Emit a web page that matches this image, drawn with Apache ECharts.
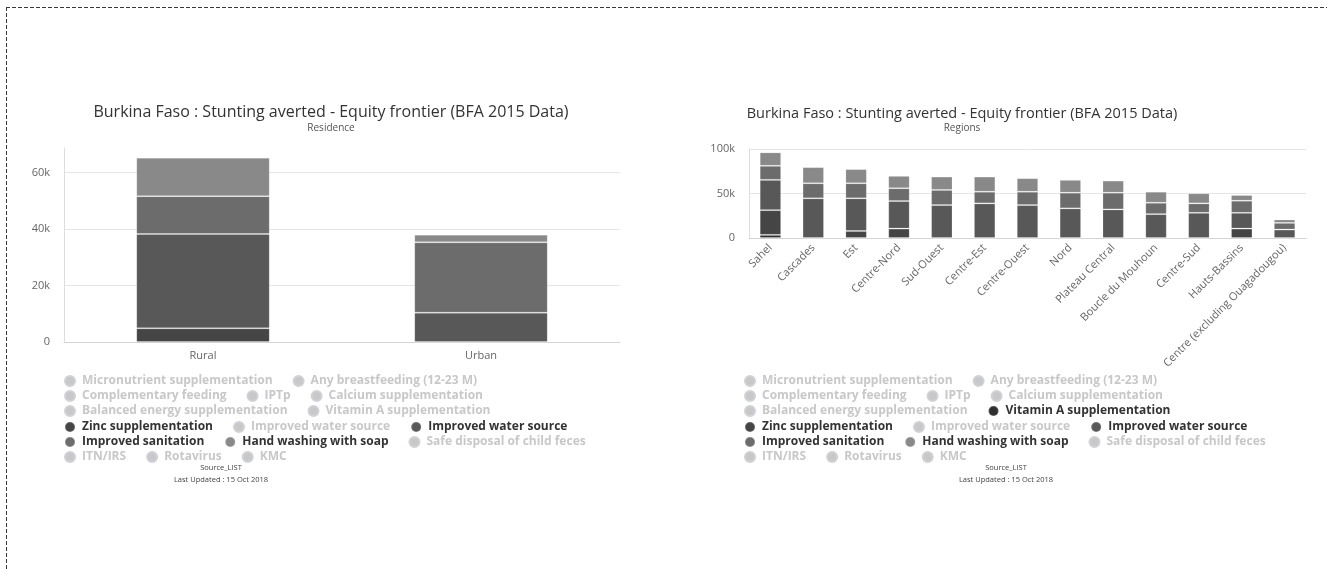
<!DOCTYPE html>
<html>
<head>
<meta charset="utf-8">
<script src="https://cdn.jsdelivr.net/npm/echarts@6/dist/echarts.min.js"></script>
<style>
  html, body { margin: 0; padding: 0; background: #fff; width: 1327px; height: 571px; overflow: hidden; position: relative; }
  #residence { position: absolute; left: 0; top: 0; width: 663px; height: 571px; }
  #regions { position: absolute; left: 663px; top: 0; width: 664px; height: 571px; }
  .frame-top { position: absolute; left: 6px; top: 7px; right: 0; height: 1px;
    background: repeating-linear-gradient(to right, #3a3a3a 0 4px, transparent 4px 6px); }
  .frame-left { position: absolute; left: 6px; top: 7px; bottom: 0; width: 1px;
    background: repeating-linear-gradient(to bottom, #3a3a3a 0 4px, transparent 4px 6px); }
</style>
</head>
<body>
<div class="frame-top"></div>
<div class="frame-left"></div>
<div id="residence"></div>
<div id="regions"></div>
<script>
// ---- Data: stunting cases averted by intervention ----
const residenceCategories = ['Rural', 'Urban'];
const residenceZinc       = [4850, 0];
const residenceWater      = [33400, 10400];
const residenceSanitation = [13400, 24900];
const residenceHandwash   = [13600, 2700];

const regionCategories = ['Sahel', 'Cascades', 'Est', 'Centre-Nord', 'Sud-Ouest', 'Centre-Est',
  'Centre-Ouest', 'Nord', 'Plateau Central', 'Boucle du Mouhoun', 'Centre-Sud', 'Hauts-Bassins',
  'Centre (excluding Ouagadougou)'];
const regionVitaminA    = [3500, 0, 0, 0, 0, 0, 0, 0, 0, 0, 0, 0, 0];
const regionZinc        = [27800, 0, 7900, 10600, 0, 0, 0, 0, 0, 0, 0, 10600, 0];
const regionWater       = [34000, 44600, 36700, 30900, 37000, 38900, 37000, 33300, 32100, 26800, 28300, 17700, 9500];
const regionSanitation  = [15800, 16900, 16900, 14400, 17000, 13100, 15000, 17600, 18800, 12800, 10600, 13600, 7500];
const regionHandwash    = [15100, 18100, 15900, 13900, 15000, 17000, 15200, 14400, 13600, 12400, 11300, 6400, 3800];

// Legend rows (the second "Improved water source" entry is a separate series;
// a trailing space keeps the names distinct, the formatter trims it)
const legendRows = [
  ['Micronutrient supplementation', 'Any breastfeeding (12-23 M)'],
  ['Complementary feeding', 'IPTp', 'Calcium supplementation'],
  ['Balanced energy supplementation', 'Vitamin A supplementation'],
  ['Zinc supplementation', 'Improved water source ', 'Improved water source'],
  ['Improved sanitation', 'Hand washing with soap', 'Safe disposal of child feces'],
  ['ITN/IRS', 'Rotavirus', 'KMC']
];

const chartTitle = 'Burkina Faso : Stunting averted - Equity frontier (BFA 2015 Data)';
const creditSource = 'Source_LIST';
const creditUpdated = 'Last Updated : 15 Oct 2018';

const seriesColors = {
  'Vitamin A supplementation': '#2f2f2f',
  'Zinc supplementation': '#454545',
  'Improved water source': '#585858',
  'Improved sanitation': '#6c6c6c',
  'Hand washing with soap': '#898989'
};

const FONT = "'Open Sans', 'Noto Sans', sans-serif";

function kFormat(v) { return v === 0 ? '0' : (v / 1000) + 'k'; }

function buildOption(cfg) {
  const allNames = legendRows.flat();
  const selected = {};
  allNames.forEach(n => { selected[n] = cfg.values.hasOwnProperty(n); });

  const series = allNames.map(n => ({
    name: n,
    type: 'bar',
    stack: 'total',
    barWidth: cfg.barWidth,
    itemStyle: { color: seriesColors[n] || '#bbbbbb', borderColor: 'rgba(255,255,255,0.18)', borderWidth: 1 },
    emphasis: { disabled: true },
    data: cfg.values[n] || []
  }));

  const legends = legendRows.map((row, i) => ({
    orient: 'horizontal',
    left: cfg.legendLeft,
    top: cfg.legendTops[i],
    padding: 0,
    itemGap: 20,
    itemWidth: 14,
    itemHeight: 10,
    icon: 'circle',
    inactiveColor: '#c8c8c8',
    selected: selected,
    formatter: name => name.trim(),
    textStyle: { fontFamily: FONT, fontSize: 12, fontWeight: 'bold', color: '#333333' },
    data: row
  }));

  const txt = (text, left, top, size, color) => ({
    text, left, top, padding: 0, textAlign: 'center',
    textStyle: { fontFamily: FONT, fontSize: size, fontWeight: 'normal', color }
  });

  return {
    animation: false,
    backgroundColor: 'transparent',
    title: [
      txt(chartTitle, cfg.titleX, cfg.titleTop, cfg.titleSize, '#333333'),
      txt(cfg.subtitle, cfg.titleX, 123, 10, '#555555'),
      txt(creditSource, cfg.creditX, 464, 7.5, '#444444'),
      txt(creditUpdated, cfg.creditX, 476, 7.5, '#444444')
    ],
    legend: legends,
    grid: cfg.grid,
    xAxis: {
      type: 'category',
      data: cfg.categories,
      axisLine: { lineStyle: { color: '#d4d4d4' } },
      axisTick: { show: false },
      axisLabel: Object.assign({ color: '#666666', fontFamily: FONT, fontSize: 11, interval: 0 }, cfg.xLabel)
    },
    yAxis: {
      type: 'value',
      min: 0,
      max: cfg.yMax,
      interval: cfg.yInterval,
      axisLine: { show: true, lineStyle: { color: '#dddddd' } },
      axisTick: { show: false },
      axisLabel: { color: '#666666', fontFamily: FONT, fontSize: 11, margin: 14, formatter: kFormat,
        showMaxLabel: cfg.showMax },
      splitLine: { showMaxLine: cfg.showMax, lineStyle: { color: '#e6e6e6' } }
    },
    series
  };
}

const rowTops = [375, 390, 405, 421, 436, 451];

const residenceChart = echarts.init(document.getElementById('residence'), null, { renderer: 'canvas' });
residenceChart.setOption(buildOption({
  titleX: 331,
  titleTop: 104,
  titleSize: 16,
  subtitle: 'Residence',
  creditX: 221,
  categories: residenceCategories,
  grid: { left: 64, top: 148, width: 556, height: 194 },
  barWidth: '48%',
  yMax: 68700,
  yInterval: 20000,
  showMax: false,
  xLabel: { margin: 8 },
  legendLeft: 64,
  legendTops: rowTops,
  values: {
    'Zinc supplementation': residenceZinc,
    'Improved water source': residenceWater,
    'Improved sanitation': residenceSanitation,
    'Hand washing with soap': residenceHandwash
  }
}));

const regionsChart = echarts.init(document.getElementById('regions'), null, { renderer: 'canvas' });
regionsChart.setOption(buildOption({
  titleX: 299,
  titleTop: 106,
  titleSize: 14.5,
  subtitle: 'Regions',
  creditX: 343,
  categories: regionCategories,
  grid: { left: 86, top: 149, width: 557, height: 89 },
  barWidth: '50%',
  yMax: 100000,
  yInterval: 50000,
  showMax: true,
  xLabel: { rotate: 45, margin: 8, fontSize: 11 },
  legendLeft: 81,
  legendTops: rowTops,
  values: {
    'Vitamin A supplementation': regionVitaminA,
    'Zinc supplementation': regionZinc,
    'Improved water source': regionWater,
    'Improved sanitation': regionSanitation,
    'Hand washing with soap': regionHandwash
  }
}));
</script>
</body>
</html>
